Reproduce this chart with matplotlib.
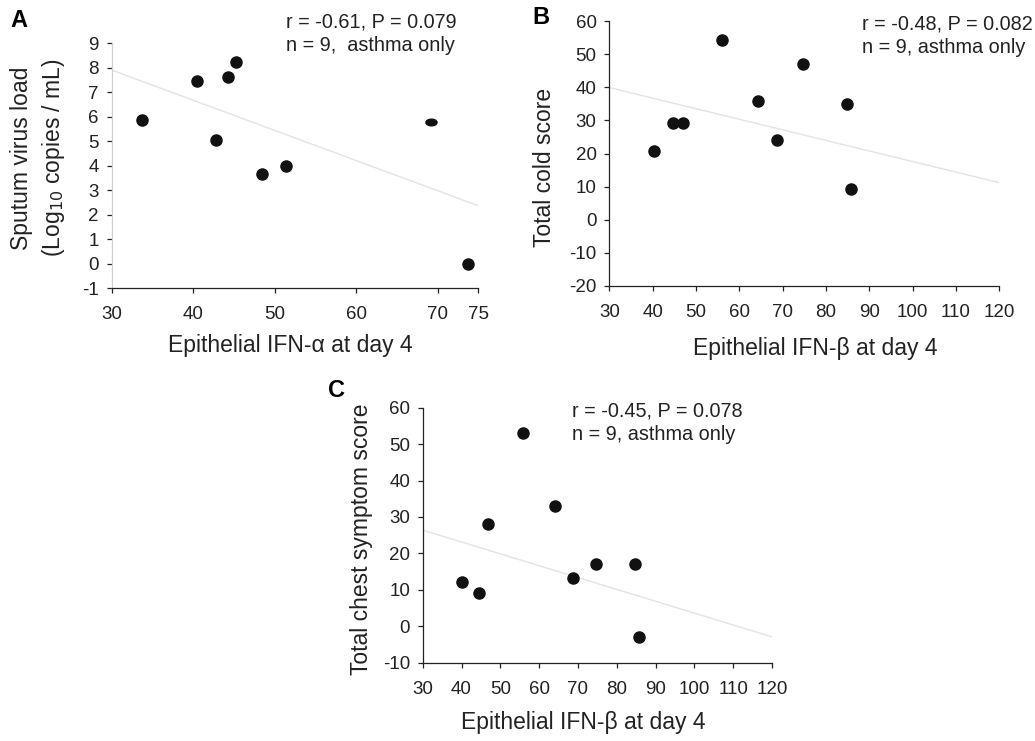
import numpy as np
import matplotlib
matplotlib.use("Agg")
import matplotlib.pyplot as plt
from matplotlib.path import Path
from matplotlib.transforms import Affine2D

plt.rcParams['font.family'] = ['Liberation Sans', 'DejaVu Sans']
plt.rcParams['axes.unicode_minus'] = False

# ---- data ----
# A: sputum virus load vs epithelial IFN-alpha
a_ifn = [33.8, 40.5, 44.3, 45.3, 42.8, 48.5, 51.4, 73.7]
a_load = [5.87, 7.47, 7.64, 8.25, 5.04, 3.67, 4.0, 0.0]
a_flat_ifn = [69.2]          # this dot is drawn squashed in the original
a_flat_load = [5.78]
a_trend_x = [30, 75]
a_trend_y = [7.91, 2.37]
a_xticks = [30, 40, 50, 60, 70, 75]
a_yticks = list(range(-1, 10))

# B: total cold score vs epithelial IFN-beta
b_ifn = [40.4, 44.7, 47.0, 56.0, 64.2, 68.8, 74.8, 84.8, 85.7]
b_cold = [20.9, 29.2, 29.2, 54.2, 35.8, 24.2, 47.0, 34.9, 9.2]
b_trend_x = [30, 120]
b_trend_y = [39.9, 11.2]
b_xticks = list(range(30, 121, 10))
b_yticks = list(range(-20, 61, 10))

# C: total chest symptom score vs epithelial IFN-beta
c_ifn = [40.2, 44.6, 46.8, 55.9, 64.0, 68.7, 74.7, 84.6, 85.7]
c_chest = [12.1, 9.2, 28.0, 53.1, 33.1, 13.2, 17.2, 17.2, -2.9]
c_trend_x = [30, 120]
c_trend_y = [26.4, -2.9]
c_xticks = list(range(30, 121, 10))
c_yticks = list(range(-10, 61, 10))

W, H = 1035, 741
fig = plt.figure(figsize=(W / 100, H / 100), dpi=100)

TXT = '#222222'
LAB = 16.5   # axis label size
ANN = 14.3   # r / n annotation size


def px_axes(left, top, right, bottom):
    return fig.add_axes([left / W, 1 - bottom / H, (right - left) / W, (bottom - top) / H])


def style(ax, xticks, yticks):
    ax.set_xlim(xticks[0], xticks[-1])
    ax.set_ylim(yticks[0], yticks[-1])
    ax.set_xticks(xticks)
    ax.set_yticks(yticks)
    for s in ['top', 'right']:
        ax.spines[s].set_visible(False)
    for s in ['left', 'bottom']:
        ax.spines[s].set_linewidth(0.9)
        ax.spines[s].set_color(TXT)
    ax.tick_params(direction='out', length=3.6, width=0.9, labelsize=13.5, colors=TXT)
    ax.tick_params(axis='x', pad=9.5)
    ax.tick_params(axis='y', pad=5.5)
    ax.patch.set_alpha(0)


def labels(ax, xl, xpos, yl, ypos):
    ax.set_xlabel(xl, fontsize=LAB, color=TXT)
    ax.xaxis.set_label_coords(*xpos)
    ax.xaxis.label.set_va('center')
    ax.set_ylabel(yl, fontsize=LAB, color=TXT, linespacing=1.35)
    ax.yaxis.set_label_coords(*ypos)
    ax.yaxis.label.set_va('center')


dot = dict(color='#111111', marker='o', markersize=8, linestyle='none', zorder=3)
trend = dict(color='#e3e3e3', linewidth=1.0, zorder=1)

# ---- panel A ----
axA = px_axes(111.5, 43.3, 478.3, 288.3)
style(axA, a_xticks, a_yticks)
axA.spines['left'].set_color('#d0d0d0')
axA.plot(a_trend_x, a_trend_y, **trend)
axA.plot(a_ifn, a_load, **dot)
flat = Path.unit_circle().transformed(Affine2D().scale(1.0, 0.6))
axA.plot(a_flat_ifn, a_flat_load, color='#111111', marker=flat, markersize=8,
         linestyle='none', zorder=3)
labels(axA, 'Epithelial IFN-α at day 4', (0.487, -0.235),
       'Sputum virus load\n(Log$_{10}$ copies / mL)', (-0.199, 0.532))
axA.text(0.476, 1.125, 'r = -0.61, P = 0.079\nn = 9,  asthma only',
         transform=axA.transAxes, fontsize=ANN, color=TXT,
         ha='left', va='top', linespacing=1.3)
fig.text(10 / W, 1 - 9 / H, 'A', fontsize=17, fontweight='bold', va='top', ha='left')

# ---- panel B ----
axB = px_axes(609.3, 21, 999.3, 286)
style(axB, b_xticks, b_yticks)
axB.plot(b_trend_x, b_trend_y, **trend)
axB.plot(b_ifn, b_cold, **dot)
labels(axB, 'Epithelial IFN-β at day 4', (0.527, -0.234),
       'Total cold score', (-0.165, 0.449))
axB.text(0.647, 1.025, 'r = -0.48, P = 0.082\nn = 9, asthma only',
         transform=axB.transAxes, fontsize=ANN, color=TXT,
         ha='left', va='top', linespacing=1.3)
fig.text(532 / W, 1 - 6 / H, 'B', fontsize=17, fontweight='bold', va='top', ha='left')

# ---- panel C ----
axC = px_axes(422.7, 407.7, 772.0, 662.7)
style(axC, c_xticks, c_yticks)
axC.plot(c_trend_x, c_trend_y, **trend)
axC.plot(c_ifn, c_chest, **dot)
labels(axC, 'Epithelial IFN-β at day 4', (0.459, -0.236),
       'Total chest symptom score', (-0.174, 0.485))
axC.text(0.428, 1.025, 'r = -0.45, P = 0.078\nn = 9, asthma only',
         transform=axC.transAxes, fontsize=ANN, color=TXT,
         ha='left', va='top', linespacing=1.3)
fig.text(328 / W, 1 - 379 / H, 'C', fontsize=17, fontweight='bold', va='top', ha='left')

fig.savefig('out.png', dpi=100, facecolor='white')
